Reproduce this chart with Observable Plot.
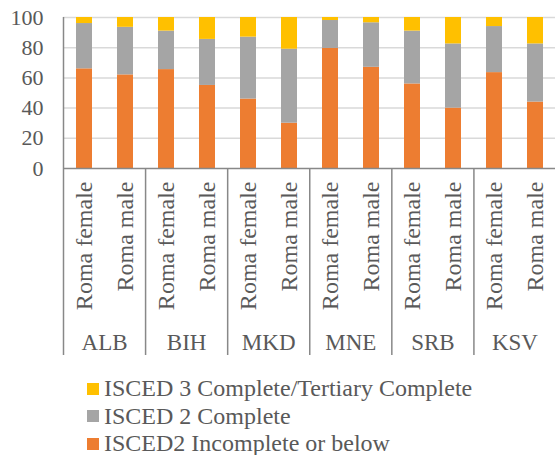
<!DOCTYPE html>
<html><head><meta charset="utf-8">
<script src="https://cdn.jsdelivr.net/npm/d3@7"></script>
<script src="https://cdn.jsdelivr.net/npm/@observablehq/plot@0.6"></script>
<style>
html,body{margin:0;padding:0;background:#fff;overflow:hidden;}
body{width:555px;height:455px;position:relative;font-family:"Liberation Serif","Times New Roman",serif;color:#595959;}
#chart{position:absolute;left:0;top:0;}
#legend{position:absolute;left:87px;top:375px;font-size:24px;line-height:27.5px;}
.item{display:flex;align-items:center;white-space:nowrap;height:27.5px;}
.sw{width:12px;height:12px;margin-right:5px;flex:none;}
</style></head><body><div id="chart"></div><div id="legend"></div>
<script>
const countries = ["ALB","BIH","MKD","MNE","SRB","KSV"];
const genders = ["Roma female","Roma male"];
const levels = ["ISCED2 Incomplete or below","ISCED 2 Complete","ISCED 3 Complete/Tertiary Complete"];
const colors = ["#ED7D31","#A5A5A5","#FFC000"];
const incompleteBelow = [66,62,65.5,55,46,30,79.5,67,56,40,63.5,44];
const isced2Complete = [30,31.5,25.5,30.5,41,49,18.5,29.5,35,42.5,30.5,38.5];
const isced3Tertiary = [4,6.5,9,14.5,13,21,2,3.5,9,17.5,6,17.5];
const yTicks = [0,20,40,60,80,100];
const legendOrder = [2,1,0];

const keys = [];
countries.forEach(c => genders.forEach(g => keys.push(c + "|" + g)));
const series = [incompleteBelow, isced2Complete, isced3Tertiary];
const rows = [];
series.forEach((vals, li) => vals.forEach((v, i) => rows.push({key: keys[i], level: levels[li], value: v})));

const textColor = "#595959";
const plot = Plot.plot({
  width: 555, height: 362,
  marginTop: 17, marginBottom: 194, marginLeft: 63, marginRight: 0,
  style: {fontFamily: '"Liberation Serif","Times New Roman",serif', color: textColor, background: "#fff"},
  x: {domain: keys, range: [63.5, 556], paddingInner: 0.6, paddingOuter: 0.3, axis: null, label: null},
  y: {domain: [0, 100], axis: null, label: null},
  color: {domain: levels, range: colors},
  marks: [
    Plot.ruleY(yTicks.filter(d => d > 0), {stroke: "#d9d9d9", strokeWidth: 1.5}),
    Plot.barY(rows, {x: "key", y: "value", fill: "level"}),
    Plot.axisY(yTicks, {tickSize: 0, tickPadding: 20, fontSize: 22, fill: textColor, label: null}),
    Plot.axisX({tickSize: 0, tickRotate: -90, tickPadding: 13, fontSize: 24, fill: textColor, label: null,
      tickFormat: k => k.split("|")[1]}),
    Plot.ruleY([0], {stroke: "#888", strokeWidth: 1.5})
  ]
});
document.getElementById("chart").appendChild(plot);

// separators, y-axis line and group labels from the plot's own scales
const sx = plot.scale("x"), sy = plot.scale("y");
const band = d3.scaleBand(sx.domain, sx.range)
  .paddingInner(sx.paddingInner).paddingOuter(sx.paddingOuter).align(sx.align ?? 0.5);
const ly = d3.scaleLinear(sy.domain, sy.range);
const y0 = ly(0), yTop = ly(100);
const svg = d3.select(plot);
const g = svg.append("g");
const gap = (band.step() - band.bandwidth()) / 2;
g.append("line").attr("x1", sx.range[0]).attr("x2", sx.range[0]).attr("y1", yTop).attr("y2", y0)
  .attr("stroke", "#888").attr("stroke-width", 1.5);
countries.forEach(c => {
  const xa = band(c + "|" + genders[0]);
  const xb = band(c + "|" + genders[1]);
  const left = xa - gap;
  g.append("line").attr("x1", left).attr("x2", left).attr("y1", y0).attr("y2", y0 + 187)
    .attr("stroke", "#888").attr("stroke-width", 1.5);
  g.append("text").attr("x", (xa + xb + band.bandwidth()) / 2).attr("y", y0 + 182)
    .attr("text-anchor", "middle").attr("font-size", 23).attr("fill", textColor).text(c);
});

const legend = document.getElementById("legend");
legendOrder.forEach(i => {
  const d = document.createElement("div"); d.className = "item";
  const s = document.createElement("span"); s.className = "sw"; s.style.background = colors[i];
  const t = document.createElement("span"); t.textContent = levels[i];
  d.appendChild(s); d.appendChild(t); legend.appendChild(d);
});
</script></body></html>
